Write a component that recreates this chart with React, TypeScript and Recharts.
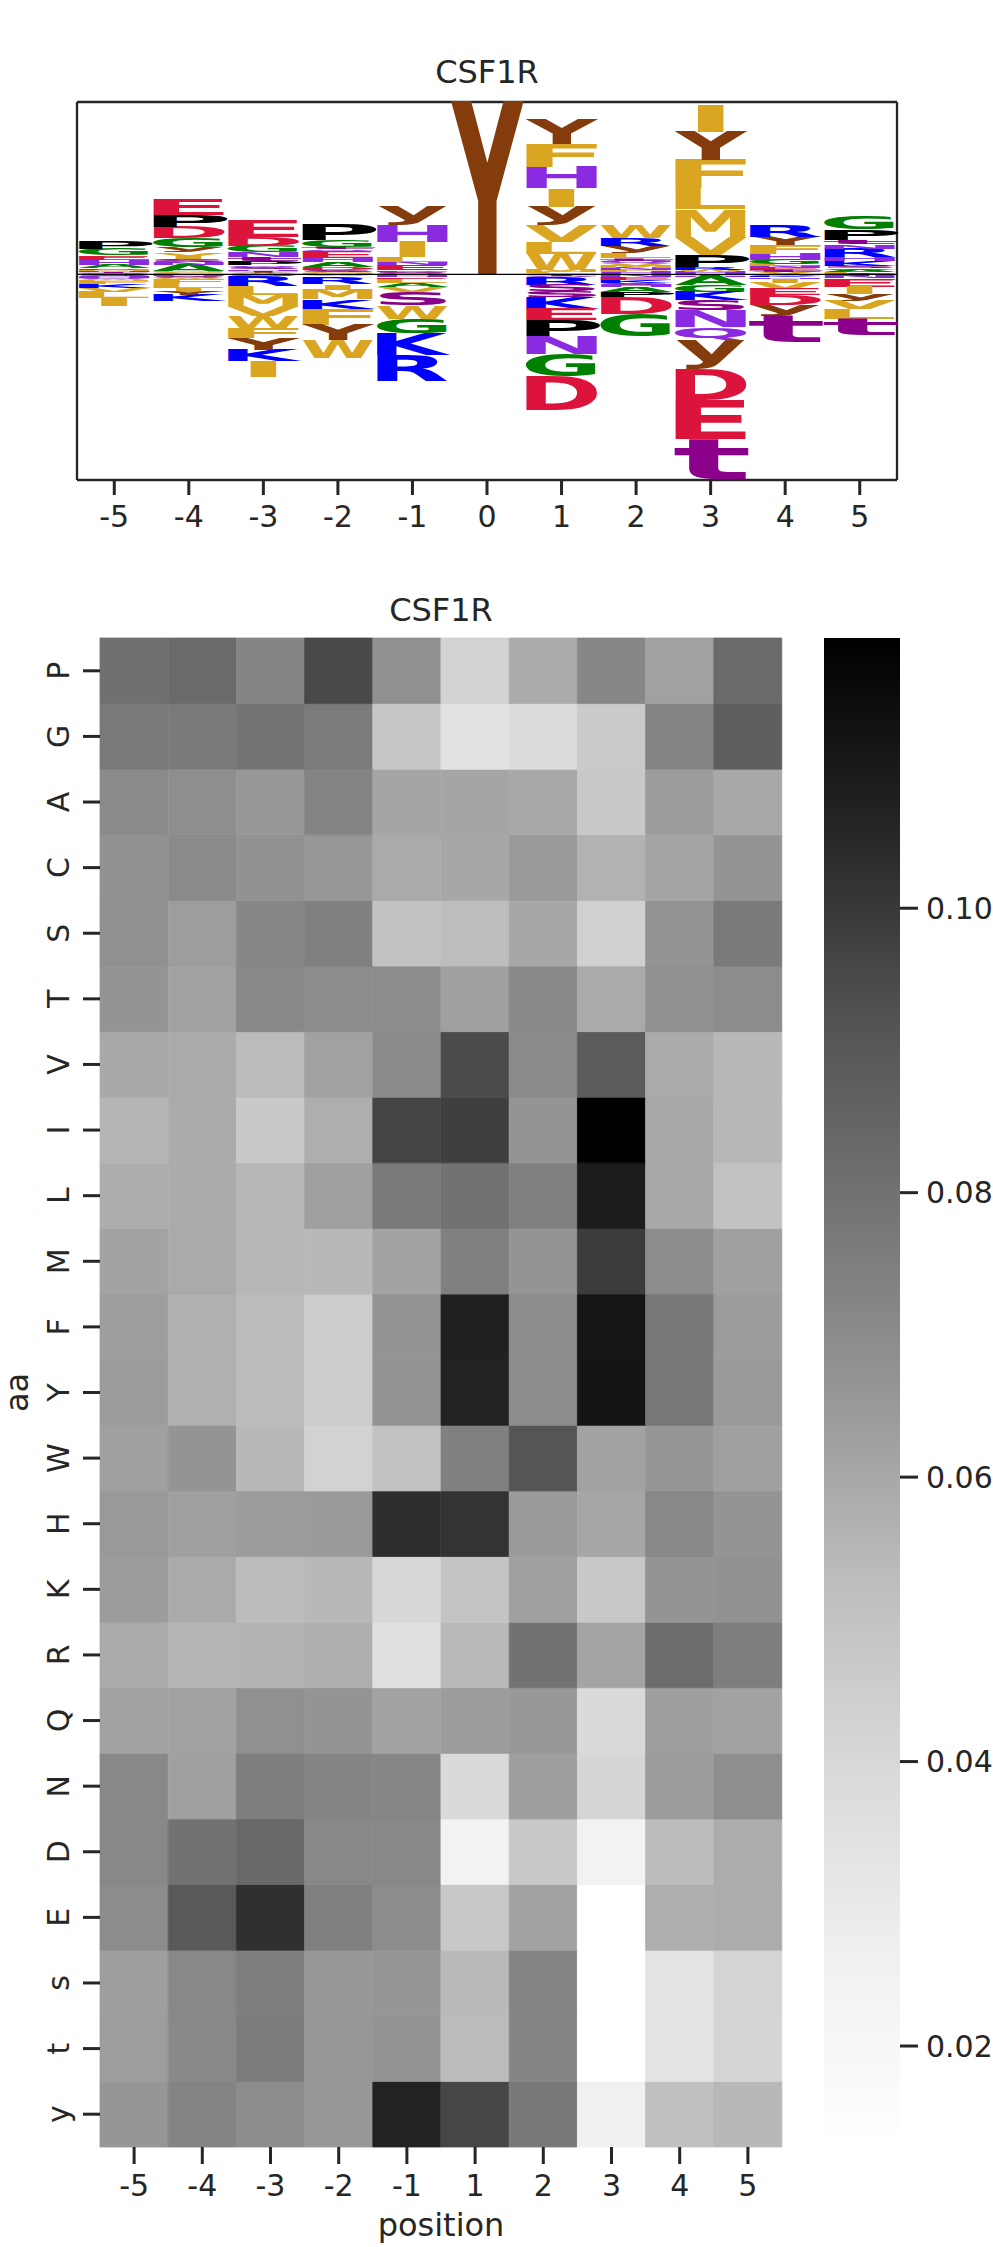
import React from 'react';
import { BarChart, Bar, XAxis, YAxis, CartesianGrid, ReferenceLine, Cell } from 'recharts';

const FONT = '"DejaVu Sans", "Liberation Sans", sans-serif';
const INK = '#262626';

// ---------------- sequence logo data ----------------
const logoPositions = ['-5', '-4', '-3', '-2', '-1', '0', '1', '2', '3', '4', '5'];
// letters above the zero line, listed top -> bottom, with their heights
const upLetters = [
  'PGEHADMNTCS',
  'EPDGyVIsNAMCL',
  'EDGNtPQsHTYW',
  'PGtQEHADsCM',
  'yHILNEDsQ',
  'Y',
  'YFHIyVLWMC',
  'WRyLtQVMNFH',
  'IYFLMVPRWH',
  'RYFHGLNEtV',
  'GPtNRHKSQAC',
];
const upHeights = [
  [8.0, 6.3, 4.3, 4.7, 3.7, 1.7, 1.2, 1.0, 0.8, 0.8, 0.5],
  [15.5, 12, 11.3, 9.3, 5.7, 3, 3, 3, 2.7, 6.5, 1, 1, 1],
  [16.7, 9, 6, 5, 4, 4.3, 2, 2, 1.5, 1.5, 1, 1],
  [15, 6.7, 2, 2, 6.7, 4.3, 5, 2.7, 2.3, 1.2, 1.1],
  [19, 16.7, 15, 5, 3.3, 5, 1.5, 1.3, 1.2],
  [171.7],
  [24, 22.7, 21.7, 18.3, 18.3, 16.7, 11.7, 16.7, 2, 2],
  [13.3, 7.7, 6.7, 5, 3, 2.5, 2.5, 2.5, 2, 2, 1.8],
  [27.7, 28.3, 28.3, 21, 27.3, 18.3, 11.7, 3, 2.4, 2],
  [11.7, 8.3, 8.3, 6, 4.7, 2, 2, 2, 2, 2],
  [12.7, 10.7, 4, 4.3, 8.3, 4, 5.3, 2, 2, 2, 2],
];
// letters below the zero line, listed zero line -> bottom
const downLetters = [
  'sNHQWMFKVLI',
  'HsQWTFLIYK',
  'NSRLMVWFYKI',
  'VLRIMKFYW',
  'NHELAVSWGKR',
  '',
  'TQRSsKEPNGD',
  'NEKsHAPDG',
  'THAGKSNQyDEt',
  'QKHIVEDyt',
  'TNHEIyVLt',
];
const downHeights = [
  [1.5, 1.2, 1, 1, 1, 1, 2.7, 4, 4.3, 5.7, 8.6],
  [1.3, 1.2, 1, 1, 0.8, 4.7, 4, 3.7, 3.3, 6],
  [1, 1, 10, 9, 11, 10, 11.7, 10, 11.3, 11.3, 15.7],
  [1.7, 1.6, 6.7, 5.3, 9.7, 9.3, 16, 15, 18.3],
  [1.5, 1.4, 1.4, 4.3, 4, 5, 13.3, 13.3, 15, 21.7, 25.7],
  [],
  [1.4, 1.3, 7.7, 6.3, 6, 11.7, 11, 15.7, 18.3, 22.3, 33.3],
  [3, 3, 2.5, 2, 2.2, 5, 5, 16.7, 22.6],
  [1.4, 1.3, 8.3, 6.7, 8.3, 10, 16.7, 13.3, 28.3, 31, 39, 40.7],
  [1.5, 1.5, 1.3, 4.3, 6.3, 6, 10, 10, 26.7],
  [1.8, 1.8, 1.7, 7.3, 7.3, 6, 8.3, 10, 16.8],
];

const LETTER_COLORS: Record<string, string> = {
  P: '#000000', G: '#008000', A: '#008000',
  S: '#8B008B', T: '#8B008B', s: '#8B008B', t: '#8B008B',
  V: '#DAA520', I: '#DAA520', L: '#DAA520', M: '#DAA520', F: '#DAA520', W: '#DAA520', C: '#DAA520',
  Y: '#843C0C', y: '#843C0C',
  H: '#8A2BE2', N: '#8A2BE2', Q: '#8A2BE2',
  D: '#DC143C', E: '#DC143C',
  K: '#0000FF', R: '#0000FF',
};
// [ink width / advance, left bearing / advance, top (em), bottom (em)] for DejaVu Sans Bold
const GLYPH: Record<string, number[]> = {
  A: [0.96, 0.02, 0.729, 0], C: [0.86, 0.075, 0.742, -0.014], D: [0.82, 0.11, 0.729, 0],
  E: [0.76, 0.135, 0.729, 0], F: [0.74, 0.135, 0.729, 0], G: [0.86, 0.068, 0.742, -0.014],
  H: [0.78, 0.11, 0.729, 0], I: [0.5, 0.25, 0.729, 0], K: [0.88, 0.12, 0.729, 0],
  L: [0.82, 0.145, 0.729, 0], M: [0.82, 0.093, 0.729, 0], N: [0.78, 0.11, 0.729, 0],
  P: [0.78, 0.126, 0.729, 0], Q: [0.87, 0.065, 0.742, -0.16], R: [0.86, 0.12, 0.729, 0],
  S: [0.85, 0.07, 0.742, -0.014], T: [0.99, 0.005, 0.729, 0], V: [0.96, 0.02, 0.729, 0],
  W: [0.95, 0.027, 0.729, 0], Y: [0.99, 0.0, 0.729, 0],
  s: [0.85, 0.075, 0.56, -0.014], t: [0.88, 0.04, 0.7, -0.014], y: [0.99, 0.0, 0.547, -0.208],
};

const upSlots = Math.max(...upLetters.map((s) => s.length));
const downSlots = Math.max(...downLetters.map((s) => s.length));
const upKeys = Array.from({ length: upSlots }, (_, k) => `u${k}`);
const downKeys = Array.from({ length: downSlots }, (_, k) => `d${k}`);

const logoData = logoPositions.map((pos, i) => {
  const row: Record<string, any> = { pos };
  const letters = upLetters[i].split('');
  const n = letters.length;
  letters.forEach((ch, j) => {
    const k = n - 1 - j;
    row[`u${k}`] = upHeights[i][j];
    row[`u${k}L`] = ch;
  });
  downLetters[i].split('').forEach((ch, j) => {
    row[`d${j}`] = -downHeights[i][j];
    row[`d${j}L`] = ch;
  });
  return row;
});
const total = (a: number[]) => a.reduce((s, v) => s + v, 0);
const logoTop = Math.max(...upHeights.map(total));
const logoBottom = -Math.max(...downHeights.map(total));

function Glyph(props: any) {
  const { x, y, width, height, letter } = props;
  if (!letter || !GLYPH[letter]) return null;
  let top = Number(y);
  let h = Number(height);
  if (!isFinite(top) || !isFinite(h)) return null;
  if (h < 0) {
    top = top + h;
    h = -h;
  }
  if (h < 0.05) return null;
  const F = 100;
  const [ink, lsb, asc, desc] = GLYPH[letter];
  let inkW = width;
  let inkX = x;
  if (letter === 'I') {
    inkW = width * 0.36;
    inkX = x + (width - inkW) / 2;
  }
  const tl = inkW / ink;
  const tx = inkX - lsb * tl;
  const sy = h / ((asc - desc) * F);
  const baseY = top + h + desc * F * sy;
  return (
    <text
      x={0}
      y={0}
      fontSize={F}
      fontFamily={FONT}
      fontWeight="bold"
      fill={LETTER_COLORS[letter]}
      textLength={tl}
      lengthAdjust="spacingAndGlyphs"
      transform={`translate(${tx},${baseY}) scale(1,${sy})`}
    >
      {letter}
    </text>
  );
}

// ---------------- heatmap data ----------------
const aaRows = ['P', 'G', 'A', 'C', 'S', 'T', 'V', 'I', 'L', 'M', 'F', 'Y', 'W', 'H', 'K', 'R', 'Q', 'N', 'D', 'E', 's', 't', 'y'];
const hmPositions = ['-5', '-4', '-3', '-2', '-1', '1', '2', '3', '4', '5'];
const freqP = [0.0804, 0.0828, 0.0724, 0.0950, 0.0682, 0.0427, 0.0588, 0.0717, 0.0622, 0.0828];
const freqG = [0.0770, 0.0766, 0.0788, 0.0761, 0.0484, 0.0342, 0.0378, 0.0466, 0.0724, 0.0877];
const freqA = [0.0705, 0.0690, 0.0656, 0.0728, 0.0609, 0.0609, 0.0598, 0.0475, 0.0639, 0.0598];
const freqC = [0.0675, 0.0705, 0.0675, 0.0656, 0.0592, 0.0602, 0.0646, 0.0564, 0.0609, 0.0667];
const freqS = [0.0682, 0.0636, 0.0717, 0.0743, 0.0503, 0.0527, 0.0602, 0.0437, 0.0667, 0.0766];
const freqT = [0.0667, 0.0619, 0.0713, 0.0698, 0.0698, 0.0626, 0.0713, 0.0592, 0.0682, 0.0698];
const freqV = [0.0595, 0.0592, 0.0533, 0.0622, 0.0705, 0.0945, 0.0705, 0.0889, 0.0592, 0.0544];
const freqI = [0.0554, 0.0588, 0.0470, 0.0578, 0.0966, 0.0981, 0.0667, 0.1190, 0.0598, 0.0548];
const freqL = [0.0581, 0.0588, 0.0548, 0.0626, 0.0766, 0.0796, 0.0743, 0.1090, 0.0598, 0.0503];
const freqM = [0.0615, 0.0592, 0.0548, 0.0544, 0.0615, 0.0743, 0.0667, 0.0989, 0.0698, 0.0626];
const freqF = [0.0632, 0.0571, 0.0533, 0.0456, 0.0667, 0.1075, 0.0698, 0.1115, 0.0777, 0.0639];
const freqY = [0.0639, 0.0571, 0.0533, 0.0456, 0.0667, 0.1068, 0.0698, 0.1118, 0.0777, 0.0646];
const freqW = [0.0626, 0.0667, 0.0544, 0.0427, 0.0503, 0.0743, 0.0913, 0.0619, 0.0660, 0.0626];
const freqH = [0.0649, 0.0626, 0.0639, 0.0646, 0.1031, 0.1016, 0.0646, 0.0605, 0.0713, 0.0667];
const freqK = [0.0639, 0.0592, 0.0530, 0.0544, 0.0399, 0.0494, 0.0626, 0.0475, 0.0667, 0.0675];
const freqR = [0.0592, 0.0554, 0.0558, 0.0578, 0.0354, 0.0541, 0.0796, 0.0612, 0.0821, 0.0751];
const freqQ = [0.0619, 0.0619, 0.0682, 0.0667, 0.0615, 0.0639, 0.0653, 0.0389, 0.0632, 0.0619];
const freqN = [0.0713, 0.0626, 0.0751, 0.0728, 0.0720, 0.0389, 0.0632, 0.0408, 0.0639, 0.0690];
const freqD = [0.0713, 0.0796, 0.0837, 0.0713, 0.0713, 0.0244, 0.0475, 0.0244, 0.0530, 0.0585];
const freqE = [0.0698, 0.0897, 0.1025, 0.0743, 0.0698, 0.0475, 0.0619, 0.0129, 0.0578, 0.0585];
const freqs = [0.0632, 0.0713, 0.0751, 0.0653, 0.0660, 0.0537, 0.0728, 0.0129, 0.0331, 0.0418];
const freqt = [0.0636, 0.0710, 0.0758, 0.0656, 0.0667, 0.0533, 0.0724, 0.0129, 0.0335, 0.0413];
const freqy = [0.0660, 0.0728, 0.0698, 0.0653, 0.1068, 0.0960, 0.0773, 0.0262, 0.0513, 0.0544];
const heatRows = [freqP, freqG, freqA, freqC, freqS, freqT, freqV, freqI, freqL, freqM, freqF, freqY, freqW,
  freqH, freqK, freqR, freqQ, freqN, freqD, freqE, freqs, freqt, freqy];
const colorbarTicks = [0.02, 0.04, 0.06, 0.08, 0.1];

const allVals = heatRows.flat();
const vMin = Math.min(...allVals);
const vMax = Math.max(...allVals);
const GREYS = [255, 240, 217, 189, 150, 115, 82, 37, 0];
function greyFor(v: number) {
  let t = (v - vMin) / (vMax - vMin);
  t = Math.max(0, Math.min(1, t));
  const p = t * 8;
  const i = Math.min(7, Math.floor(p));
  const g = Math.round(GREYS[i] + (GREYS[i + 1] - GREYS[i]) * (p - i));
  return `rgb(${g},${g},${g})`;
}

const heatData = hmPositions.map((pos) => {
  const row: Record<string, any> = { pos };
  aaRows.forEach((_, i) => {
    row[`r${i}`] = 1;
  });
  return row;
});
const rowOrderBottomUp = aaRows.map((_, i) => aaRows.length - 1 - i);
const colorbarData = [{ name: 'cb', span: [vMin, vMax] }];

function RotTick(props: any) {
  const { x, y, payload } = props;
  const label = aaRows[aaRows.length - 1 - Math.floor(payload.value)];
  return (
    <text x={x} y={y} transform={`rotate(-90 ${x} ${y})`} textAnchor="middle" fontSize={30} fontFamily={FONT} fill={INK}>
      {label}
    </text>
  );
}

const tickFont = { fill: INK, fontSize: 30, fontFamily: FONT };

export default function App() {
  return (
    <div style={{ position: 'absolute', left: 0, top: 0, width: 993, height: 2247, background: '#fff' }}>
      {/* sequence logo */}
      <div style={{ position: 'absolute', left: 0, top: 0 }}>
        <BarChart
          width={993}
          height={560}
          data={logoData}
          stackOffset="sign"
          barCategoryGap="3%"
          margin={{ top: 102, right: 96, bottom: 0, left: 77 }}
        >
          <CartesianGrid
            stroke={INK}
            strokeWidth={2.3}
            horizontalCoordinatesGenerator={(p: any) => [p.offset.top, p.offset.top + p.offset.height]}
            verticalCoordinatesGenerator={(p: any) => [p.offset.left, p.offset.left + p.offset.width]}
          />
          <XAxis
            dataKey="pos"
            interval={0}
            axisLine={false}
            tickLine={{ stroke: INK, strokeWidth: 3 }}
            tickSize={15}
            tickMargin={11}
            height={80}
            tick={tickFont}
          />
          <YAxis hide domain={[logoBottom, logoTop]} />
          {upKeys.map((k) => (
            <Bar
              key={k}
              dataKey={k}
              stackId="logo"
              isAnimationActive={false}
              shape={(p: any) => <Glyph {...p} letter={p.payload ? p.payload[`${k}L`] : undefined} />}
            />
          ))}
          {downKeys.map((k) => (
            <Bar
              key={k}
              dataKey={k}
              stackId="logo"
              isAnimationActive={false}
              shape={(p: any) => <Glyph {...p} letter={p.payload ? p.payload[`${k}L`] : undefined} />}
            />
          ))}
          <ReferenceLine y={0} stroke="#000" strokeWidth={1.2} />
        </BarChart>
      </div>

      {/* heatmap */}
      <div style={{ position: 'absolute', left: 0, top: 570 }}>
        <BarChart
          width={800}
          height={1677}
          data={heatData}
          barCategoryGap={0}
          margin={{ top: 68, right: 18, bottom: 0, left: 0 }}
        >
          <XAxis
            dataKey="pos"
            interval={0}
            axisLine={false}
            tickLine={{ stroke: INK, strokeWidth: 3 }}
            tickSize={17}
            tickMargin={11}
            height={100}
            tick={tickFont}
          />
          <YAxis
            type="number"
            domain={[0, aaRows.length]}
            ticks={aaRows.map((_, i) => i + 0.5)}
            interval={0}
            width={100}
            axisLine={false}
            tickLine={{ stroke: INK, strokeWidth: 3 }}
            tickSize={17}
            tickMargin={14}
            tick={<RotTick />}
          />
          {rowOrderBottomUp.map((ri) => (
            <Bar key={`r${ri}`} dataKey={`r${ri}`} stackId="heat" isAnimationActive={false}>
              {hmPositions.map((_, j) => (
                <Cell
                  key={j}
                  fill={greyFor(heatRows[ri][j])}
                  stroke={greyFor(heatRows[ri][j])}
                  strokeWidth={0.8}
                />
              ))}
            </Bar>
          ))}
        </BarChart>
      </div>

      {/* colorbar */}
      <div style={{ position: 'absolute', left: 824, top: 570 }}>
        <BarChart
          width={169}
          height={1677}
          data={colorbarData}
          barCategoryGap={0}
          margin={{ top: 68, right: 0, bottom: 100, left: 0 }}
        >
          <defs>
            <linearGradient id="greysGrad" x1="0" y1="1" x2="0" y2="0">
              {GREYS.map((g, i) => (
                <stop key={i} offset={i / (GREYS.length - 1)} stopColor={`rgb(${g},${g},${g})`} />
              ))}
            </linearGradient>
          </defs>
          <XAxis dataKey="name" hide />
          <YAxis
            orientation="right"
            type="number"
            domain={[vMin, vMax]}
            ticks={colorbarTicks}
            interval={0}
            width={93}
            axisLine={false}
            tickLine={{ stroke: INK, strokeWidth: 3 }}
            tickSize={18}
            tickMargin={8}
            tick={tickFont}
            tickFormatter={(v: number) => v.toFixed(2)}
          />
          <Bar dataKey="span" fill="url(#greysGrad)" isAnimationActive={false} />
        </BarChart>
      </div>

      {/* titles and axis labels */}
      <svg
        width={993}
        height={2247}
        style={{ position: 'absolute', left: 0, top: 0, pointerEvents: 'none' }}
      >
        <text x={487} y={83.4} textAnchor="middle" fontSize={32} fontFamily={FONT} fill={INK}>
          CSF1R
        </text>
        <text x={441} y={620.7} textAnchor="middle" fontSize={32} fontFamily={FONT} fill={INK}>
          CSF1R
        </text>
        <text x={441} y={2236} textAnchor="middle" fontSize={32} fontFamily={FONT} fill={INK}>
          position
        </text>
        <text x={28} y={1392.5} transform="rotate(-90 28 1392.5)" textAnchor="middle" fontSize={32} fontFamily={FONT} fill={INK}>
          aa
        </text>
      </svg>
    </div>
  );
}
